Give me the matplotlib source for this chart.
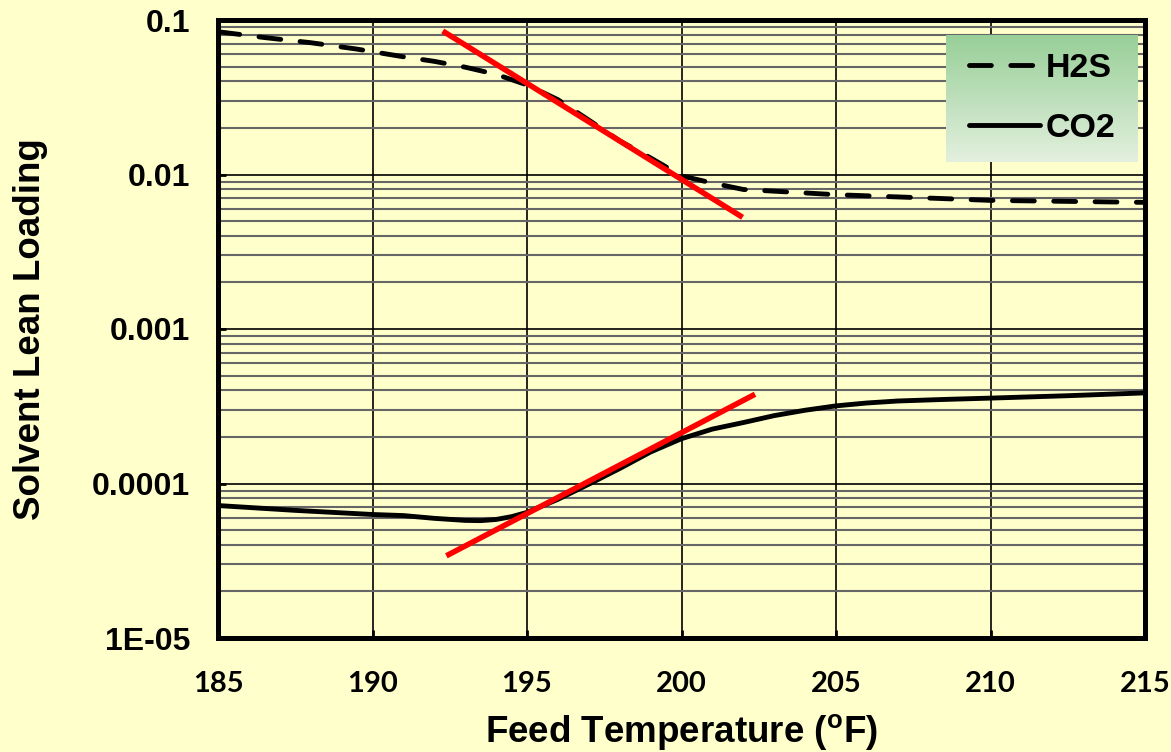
import numpy as np
import matplotlib
matplotlib.use("Agg")
import matplotlib.pyplot as plt
from matplotlib.colors import LinearSegmentedColormap
from matplotlib.ticker import FixedLocator, NullFormatter

# values
h2s_temp = [185, 186.5, 188, 189.5, 191, 192, 193, 194, 195, 196, 197, 198,
            199, 200, 201, 202, 203, 205, 207.5, 210, 212.5, 215]
h2s_load = [0.084, 0.077, 0.0713, 0.0648, 0.0578, 0.054, 0.0495, 0.0445,
            0.038, 0.0305, 0.0225, 0.0165, 0.0128, 0.0098, 0.0088, 0.0080,
            0.0078, 0.0074, 0.0071, 0.0068, 0.0067, 0.0066]

co2_temp = [185, 187.5, 190, 191, 192, 193, 193.5, 194, 194.5, 195, 196, 197,
            198, 199, 200, 201, 202, 203, 204, 205, 206, 207, 208.5, 210,
            212.5, 215]
co2_load = [7.2e-5, 6.7e-5, 6.3e-5, 6.2e-5, 5.95e-5, 5.77e-5, 5.75e-5,
            5.85e-5, 6.1e-5, 6.5e-5, 7.9e-5, 9.9e-5, 1.25e-4, 1.6e-4,
            1.95e-4, 2.25e-4, 2.48e-4, 2.75e-4, 2.98e-4, 3.18e-4, 3.32e-4,
            3.42e-4, 3.5e-4, 3.57e-4, 3.7e-4, 3.86e-4]

# red tangent lines (end points)
h2s_tan_temp = [192.35, 201.9]
h2s_tan_load = [0.083, 0.0054]
co2_tan_temp = [192.47, 202.3]
co2_tan_load = [3.47e-5, 3.71e-4]

x_ticks = [185, 190, 195, 200, 205, 210, 215]
y_ticks = [1e-5, 1e-4, 1e-3, 1e-2, 1e-1]
y_tick_labels = ['1E-05', '0.0001', '0.001', '0.01', '0.1']

BG = '#FFFFCC'


def main():
    plt.rcParams['font.family'] = ['Liberation Sans', 'DejaVu Sans']
    plt.rcParams['mathtext.fontset'] = 'custom'
    plt.rcParams['mathtext.rm'] = 'Liberation Sans:bold'
    plt.rcParams['mathtext.bf'] = 'Liberation Sans:bold'

    fig = plt.figure(figsize=(11.71, 7.52), dpi=100, facecolor=BG)
    ax = fig.add_axes([218 / 1171, 1 - 638 / 752, 927 / 1171, 618 / 752])
    ax.set_facecolor(BG)

    h2s, = ax.plot(h2s_temp, h2s_load, color='black', lw=3.5,
                   dashes=(4.5, 4.0), dash_capstyle='round', label='H2S',
                   zorder=3)
    co2, = ax.plot(co2_temp, co2_load, color='black', lw=3.5,
                   solid_capstyle='round', label='CO2', zorder=3)
    ax.plot(h2s_tan_temp, h2s_tan_load, color='#FF0000', lw=4.0, zorder=4)
    ax.plot(co2_tan_temp, co2_tan_load, color='#FF0000', lw=4.0, zorder=4)

    ax.set_yscale('log')
    ax.set_xlim(185, 215)
    ax.set_ylim(1e-5, 0.1)
    ax.set_xticks(x_ticks)
    ax.set_yticks(y_ticks)
    ax.set_yticklabels(y_tick_labels)
    minors = [m * d for d in [1e-5, 1e-4, 1e-3, 1e-2] for m in range(2, 10)]
    ax.yaxis.set_minor_locator(FixedLocator(minors))
    ax.yaxis.set_minor_formatter(NullFormatter())

    ax.grid(True, which='major', color='black', lw=1.2, zorder=1)
    ax.grid(True, which='minor', axis='y', color='#666666', lw=1.5, zorder=1)
    ax.set_axisbelow(True)

    for s in ax.spines.values():
        s.set_linewidth(3.6)
        s.set_zorder(5)

    ax.tick_params(which='major', direction='in', length=6, width=2)
    ax.tick_params(which='minor', length=0)
    ax.tick_params(axis='y', pad=20)
    ax.tick_params(axis='x', pad=24)
    for lab in ax.get_yticklabels():
        lab.set_fontsize(23)
        lab.set_fontweight('bold')
    for lab in ax.get_xticklabels():
        lab.set_family(['Lato', 'DejaVu Sans'])
        lab.set_fontsize(21)
        lab.set_fontweight('bold')

    ax.set_xlabel(r'Feed Temperature ($^{\mathrm{o}}$F)', fontsize=26.5,
                  fontweight='bold')
    ax.set_ylabel('Solvent Lean Loading', fontsize=26.5, fontweight='bold')
    ax.xaxis.set_label_coords(0.5, -0.121)
    ax.yaxis.set_label_coords(-0.183, 0.5)

    # legend box with green gradient
    gax = fig.add_axes([946 / 1171, 1 - 162 / 752, 192 / 1171, 127 / 752])
    cmap = LinearSegmentedColormap.from_list('g', ['#98CF98', '#E3F0DE'])
    grad = np.linspace(0, 1, 256).reshape(-1, 1)
    gax.imshow(grad, cmap=cmap, aspect='auto', extent=[0, 1, 0, 1])
    gax.axis('off')
    gax.legend([h2s, co2], ['H2S', 'CO2'], loc='center', frameon=False,
               handlelength=2.1, handletextpad=0.15, labelspacing=0.85,
               prop={'family': 'Liberation Sans', 'weight': 'bold',
                     'size': 24.5})

    fig.savefig('out.png', dpi=100, facecolor=BG)


if __name__ == '__main__':
    main()
